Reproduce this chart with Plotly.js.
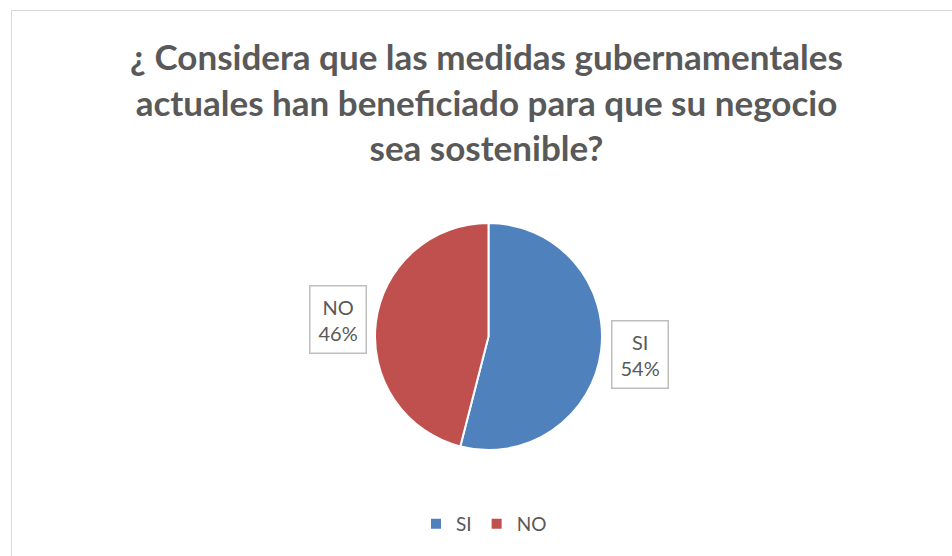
<!DOCTYPE html>
<html>
<head>
<meta charset="utf-8">
<script src="https://cdn.plot.ly/plotly-3.0.1.min.js"></script>
<style>html,body{margin:0;padding:0;background:#fff;}#chart{width:952px;height:556px;}</style>
</head>
<body>
<div id="chart"></div>
<script>
const categories = ["SI", "NO"];
const values = [54, 46];
const colors = ["#4F81BD", "#C0504D"];
const titleText = "¿ Considera que las medidas gubernamentales<br>actuales han beneficiado para que su negocio<br>sea sostenible?";

const total = values.reduce((a, b) => a + b, 0);
const labelText = categories.map((c, i) => c + "<br>" + Math.round(values[i] / total * 100) + "%");

const trace = {
  type: "pie",
  labels: categories,
  values: values,
  sort: false,
  direction: "clockwise",
  rotation: 0,
  textinfo: "none",
  hoverinfo: "label+percent",
  marker: { colors: colors, line: { color: "#ffffff", width: 2 } },
  domain: { x: [375 / 952, 602 / 952], y: [106 / 556, 333 / 556] }
};

const labelPos = [
  { x: 639.5, y: 354.5 },
  { x: 338, y: 319 }
];

const layout = {
  width: 952,
  height: 556,
  margin: { l: 0, r: 0, t: 0, b: 0 },
  paper_bgcolor: "#ffffff",
  font: { family: "Lato, 'Open Sans', sans-serif", color: "#595959" },
  title: {
    text: titleText,
    font: { family: "Lato, 'Open Sans', sans-serif", size: 35, color: "#595959", weight: "bold" },
    x: 0.511, xanchor: "center",
    y: 1 - 70 / 556, yanchor: "middle", yref: "paper"
  },
  showlegend: true,
  legend: {
    orientation: "h",
    x: 0.5 + 8 / 952, xanchor: "center",
    y: 1 - 524 / 556, yanchor: "middle",
    font: { size: 19, color: "#595959" },
    itemwidth: 30
  },
  shapes: [{
    type: "rect", xref: "paper", yref: "paper",
    x0: 11.5 / 952, x1: 1.01, y0: -0.01, y1: 1 - 10.5 / 556,
    line: { color: "#d9d9d9", width: 1 }, fillcolor: "rgba(0,0,0,0)"
  }],
  annotations: labelText.map((t, i) => ({
    text: t,
    xref: "paper", yref: "paper",
    x: labelPos[i].x / 952, y: 1 - labelPos[i].y / 556,
    xanchor: "center", yanchor: "middle",
    showarrow: false,
    font: { size: 20, color: "#595959" },
    bgcolor: "#ffffff",
    bordercolor: "#bfbfbf",
    borderwidth: 1.5,
    borderpad: 8
  }))
};

Plotly.newPlot("chart", [trace], layout, { displayModeBar: false, staticPlot: true });
</script>
</body>
</html>
